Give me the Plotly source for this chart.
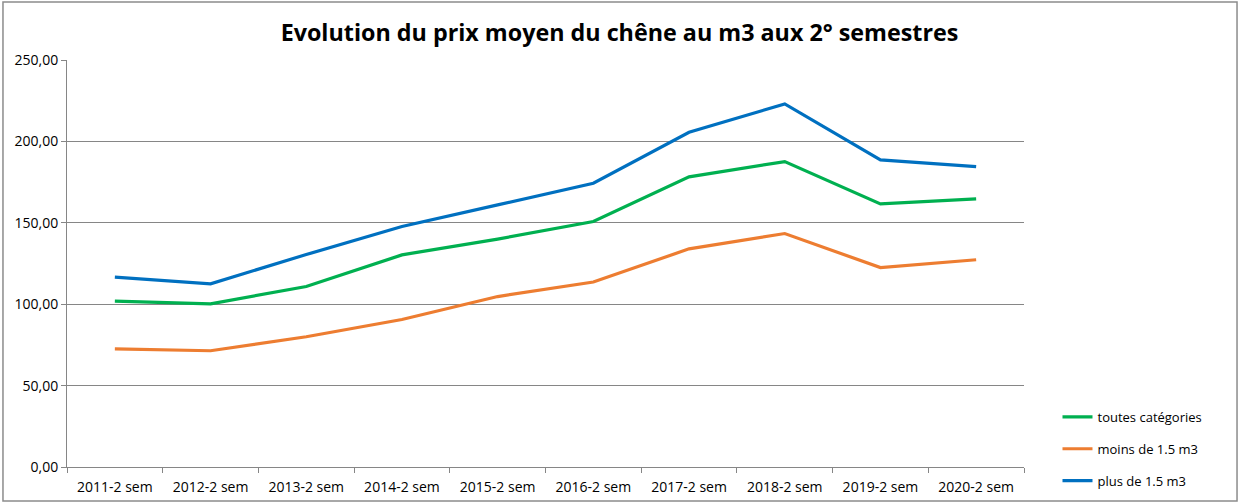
import plotly.graph_objects as go

categories = ["2011-2 sem", "2012-2 sem", "2013-2 sem", "2014-2 sem", "2015-2 sem",
              "2016-2 sem", "2017-2 sem", "2018-2 sem", "2019-2 sem", "2020-2 sem"]
toutes = [101.9, 100.2, 110.9, 130.3, 140.0, 150.8, 178.2, 187.6, 161.6, 164.7]
moins = [72.6, 71.4, 80.0, 90.6, 104.7, 113.6, 134.0, 143.4, 122.5, 127.3]
plus = [116.6, 112.5, 130.5, 147.7, 161.0, 174.3, 205.6, 223.0, 188.6, 184.5]

series_names = ["toutes catégories", "moins de 1.5 m3", "plus de 1.5 m3"]
series_values = [toutes, moins, plus]
series_colors = ["#00B050", "#ED7D31", "#0070C0"]

FONT = "'Open Sans', sans-serif"

fig = go.Figure()
for i, (name, vals, col) in enumerate(zip(series_names, series_values, series_colors)):
    fig.add_trace(go.Scatter(
        x=categories, y=vals, name=name, mode="lines",
        line=dict(color=col, width=3.2), legendgroup=f"g{i}",
        hoverinfo="skip"))

fig.update_layout(
    width=1239, height=504,
    margin=dict(l=67, r=215, t=60, b=37, autoexpand=False),
    paper_bgcolor="white", plot_bgcolor="white",
    font=dict(family=FONT, size=14, color="#000000"),
    separators=",.",
    title=dict(text="<b>Evolution du prix moyen du chêne au m3 aux 2° semestres</b>",
               x=0.5, xanchor="center", y=0.935, yanchor="middle",
               font=dict(family=FONT, size=23.3, color="#000000")),
    showlegend=True,
    legend=dict(x=1.035, xanchor="left", y=0.16, yanchor="top",
                font=dict(family=FONT, size=13), tracegroupgap=12,
                bgcolor="rgba(0,0,0,0)", itemwidth=30),
)
fig.update_xaxes(
    type="category", showline=True, linecolor="#868686", linewidth=1,
    ticks="outside", ticklen=5, tickcolor="#868686", tickson="boundaries",
    showgrid=False, tickfont=dict(family=FONT, size=14), mirror=False,
    range=[-0.5, 9.5], fixedrange=True, automargin=False, ticklabelstandoff=7)
fig.update_yaxes(
    range=[0, 250], dtick=50, tickformat=".2f", showline=True,
    linecolor="#868686", linewidth=1, ticks="outside", ticklen=5,
    tickcolor="#868686", showgrid=True, gridcolor="#868686", gridwidth=1,
    zeroline=False, tickfont=dict(family=FONT, size=14), fixedrange=True,
    automargin=False)

fig.add_shape(type="rect", xref="paper", yref="paper",
              x0=-0.0669, x1=1.2226, y0=-0.0835, y1=1.1425,
              line=dict(color="#8C8C8C", width=1.5), fillcolor="rgba(0,0,0,0)",
              layer="below")

fig.write_html("out.html", config={"displayModeBar": False},
               post_script="document.body.style.margin='0';")
